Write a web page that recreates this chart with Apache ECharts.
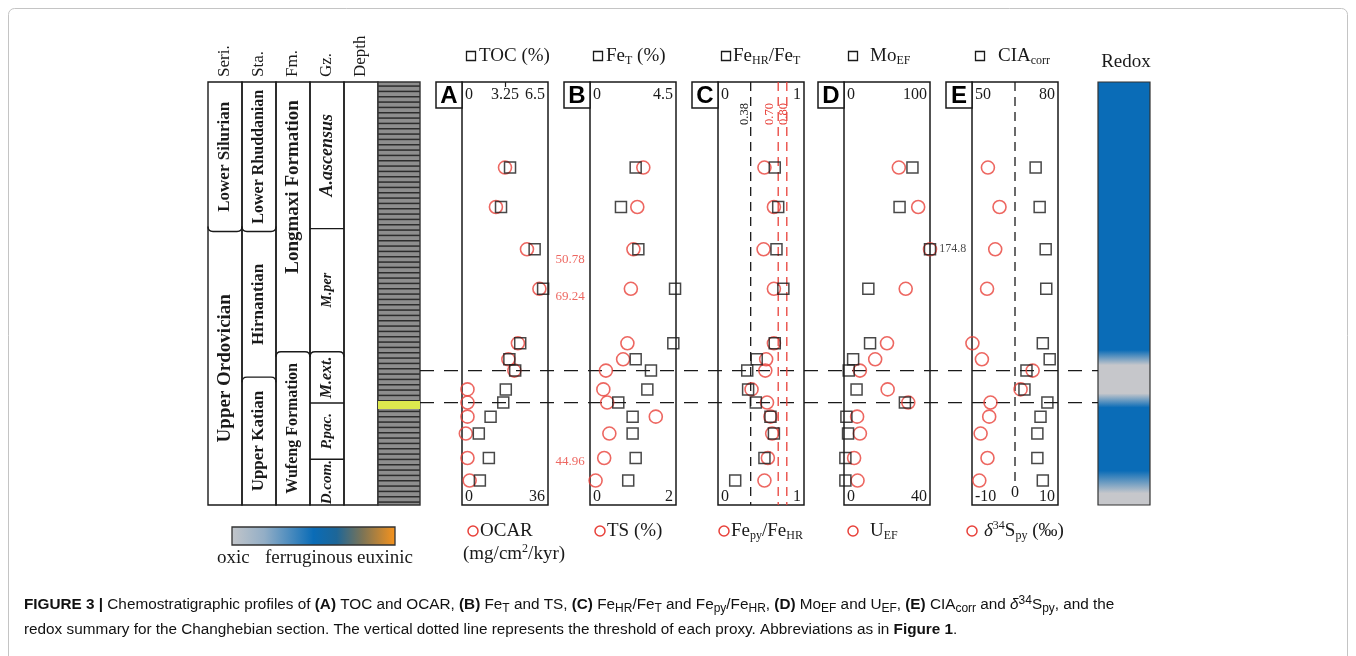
<!DOCTYPE html>
<html>
<head>
<meta charset="utf-8">
<script src="https://cdn.jsdelivr.net/npm/echarts@6.0.0/dist/echarts.min.js"></script>
<style>
html,body{margin:0;padding:0;background:#ffffff;}
#chart{width:1356px;height:656px;}
</style>
</head>
<body>
<div id="chart"></div>
<script>
// ================= DATA =================
// sample depths (m above base of section), shared by all proxy panels
const depths   = [3.59, 3.17, 2.72, 2.30, 1.72, 1.55, 1.43, 1.23, 1.09, 0.94, 0.76, 0.50, 0.26];
const toc      = [3.63, 2.95, 5.49, 6.13, 4.40, 3.58, 4.02, 3.31, 3.12, 2.16, 1.27, 2.03, 1.35];
const ocar     = [18.0, 14.2, 27.2, 32.4, 23.4, 19.4, 21.9, 2.3, 2.3, 2.3, 1.6, 2.3, 3.2];
const feT      = [2.39, 1.62, 2.53, 4.45, 4.36, 2.39, 3.19, 3.00, 1.48, 2.23, 2.23, 2.39, 2.00];
const ts       = [1.24, 1.10, 1.01, 0.95, 0.87, 0.77, 0.37, 0.31, 0.40, 1.53, 0.45, 0.33, 0.13];
const feHRfeT  = [0.66, 0.70, 0.68, 0.76, 0.66, 0.45, 0.34, 0.35, 0.44, 0.61, 0.65, 0.54, 0.20];
const fePyfeHR = [0.54, 0.65, 0.53, 0.65, 0.65, 0.56, 0.55, 0.39, 0.57, 0.61, 0.63, 0.58, 0.54];
const moEF     = [79.6, 64.6, 174.8, 28.3, 30.3, 10.6, 5.5, 14.6, 70.8, 2.8, 4.7, 1.6, 1.6];
const uEF      = [25.5, 34.5, 40.0, 28.7, 20.0, 14.5, 7.4, 20.3, 29.9, 6.1, 7.4, 4.7, 6.3];
const ciaCorr  = [72.2, 73.6, 75.7, 75.9, 74.7, 77.1, 69.0, 68.3, 76.3, 73.9, 72.8, 72.8, 74.7];
const d34S     = [-6.3, -3.6, -4.6, -6.5, -9.9, -7.7, 4.1, 1.3, -5.7, -6.0, -8.0, -6.4, -8.3];

// annotations beside panel A: [text, depth]
const ocarNotes = [['50.78', 2.61], ['69.24', 2.22], ['44.96', 0.46]];

// tick labels
const depthTicks = [1.5, 3];
const tocTicks = [0, 3.25, 6.5];
const tocMarks = [3.25];
const ocarTicks = [0, 36];
const feTTicks = [0, 4.5];
const tsTicks = [0, 2];
const feHRTicks = [0, 1];
const fePyTicks = [0, 1];
const moTicks = [0, 100];
const uTicks = [0, 40];
const ciaTicks = [50, 80];
const d34STicks = [-10, 10];

// thresholds: [panel index, axis side, value, label]
const thresholds = [
  [2, 'top', 0.38, '0.38'],
  [2, 'bottom', 0.70, '0.70'],
  [2, 'bottom', 0.80, '0.80'],
  [4, 'bottom', 0, '0']
];

// redox-boundary horizons (m)
const horizonDepths = [1.43, 1.09];

// stratigraphic column
const stratColumns = ['Seri.', 'Sta.', 'Fm.', 'Gz.', 'Depth'];
// [column, base (m), top (m), name]
const stratUnits = [
  [0, 2.91, 4.5, 'Lower Silurian'],
  [0, 0, 2.91, 'Upper Ordovician'],
  [1, 2.91, 4.5, 'Lower Rhuddanian'],
  [1, 1.36, 2.91, 'Hirnantian'],
  [1, 0, 1.36, 'Upper Katian'],
  [2, 1.63, 4.5, 'Longmaxi Formation'],
  [2, 0, 1.63, 'Wufeng Formation'],
  [3, 2.94, 4.5, 'A.ascensus'],
  [3, 1.63, 2.94, 'M.per'],
  [3, 1.085, 1.63, 'M.ext.'],
  [3, 0.486, 1.085, 'P.pac.'],
  [3, 0, 0.486, 'D.com.']
];
// [column, depth (m), boundary kind]
const stratBoundaries = [
  [0, 2.91, 'cup'], [1, 2.91, 'cup'], [1, 1.36, 'cap'], [2, 1.63, 'cap'],
  [3, 2.94, 'flat'], [3, 1.63, 'cap'], [3, 1.085, 'flat'], [3, 0.486, 'flat']
];
// lithology: [base (m), top (m), kind]
const lithology = [[0, 4.5, 'shale'], [1.02, 1.106, 'bentonite']];

// redox summary: depth (m) and state at each colour stop
const redoxDepth = [4.5, 1.65, 1.49, 1.19, 1.04, 0.37, 0.13, 0];
const redoxState = ['ferruginous', 'ferruginous', 'oxic', 'oxic', 'ferruginous', 'ferruginous', 'oxic', 'oxic'];

// ================= STYLE / LAYOUT =================
const RED = '#e8413a', INK = '#1a1a1a';
const SERIF = '"Liberation Serif","Times New Roman",serif';
const SANS = '"Liberation Sans",Arial,sans-serif';
const DMAX = 4.5;
const TOP = 82, H = 423, PW = 86;
const redoxColors = {oxic: '#c6c7cb', ferruginous: '#0a6cb7', euxinic: '#f7941d'};
const panelLayout = [
  {id: 'A', left: 462}, {id: 'B', left: 590}, {id: 'C', left: 718}, {id: 'D', left: 844}, {id: 'E', left: 972}
];
const panels = [
  {sq: toc, sqTicks: tocTicks, sqMarks: tocMarks, ci: ocar, ciTicks: ocarTicks},
  {sq: feT, sqTicks: feTTicks, ci: ts, ciTicks: tsTicks},
  {sq: feHRfeT, sqTicks: feHRTicks, ci: fePyfeHR, ciTicks: fePyTicks},
  {sq: moEF, sqTicks: moTicks, ci: uEF, ciTicks: uTicks},
  {sq: ciaCorr, sqTicks: ciaTicks, ci: d34S, ciTicks: d34STicks}
];
const thresholdColors = [INK, RED, RED, INK];
const thresholdLabelAt = ['top', 'top', 'top', 'bottom'];
const thresholdLabelDx = [-6, -8, -3, 0];
const labelShift = {'Longmaxi Formation': -30};
const unitFont = {'M.per': 14, 'Lower Rhuddanian': 16, 'Upper Ordovician': 19, 'Longmaxi Formation': 19,
  'Wufeng Formation': 16, 'A.ascensus': 18, 'P.pac.': 15, 'D.com.': 15};

function shalePattern() {
  const c = document.createElement('canvas');
  c.width = 8; c.height = 16;
  const g = c.getContext('2d');
  g.fillStyle = '#8e8e8e'; g.fillRect(0, 0, 8, 16);
  g.fillStyle = '#2d2d2d';
  [0, 5.33, 10.67].forEach(function (y) { g.fillRect(0, y, 8, 1.5); });
  return c;
}
const SHALE = shalePattern();

function txt(style) {
  if (style.align) style.textAlign = style.align;
  if (style.verticalAlign) style.textVerticalAlign = style.verticalAlign;
  return style;
}

// ================= RENDERERS =================
function renderColumn(params, api) {
  const i = params.dataIndex;
  const a = api.coord([i, DMAX]), b = api.coord([i + 1, 0]);
  return {type: 'group', children: [
    {type: 'rect', shape: {x: a[0], y: a[1], width: b[0] - a[0], height: b[1] - a[1]},
      style: {fill: 'none', stroke: INK, lineWidth: 1.4}},
    {type: 'text', x: (a[0] + b[0]) / 2, y: a[1] - 5, rotation: Math.PI / 2,
      style: txt({text: stratColumns[i], fill: INK, font: '17px ' + SERIF, align: 'left', verticalAlign: 'middle'})}
  ]};
}
function renderBoundary(params, api) {
  const bd = stratBoundaries[params.dataIndex];
  const a = api.coord([bd[0], bd[1]]), b = api.coord([bd[0] + 1, bd[1]]);
  const x0 = a[0], x1 = b[0], y = a[1], r = 5;
  let d;
  if (bd[2] === 'flat') d = 'M' + x0 + ' ' + y + 'L' + x1 + ' ' + y;
  else {
    const e = bd[2] === 'cup' ? y - r : y + r;
    d = 'M' + x0 + ' ' + e + 'Q' + x0 + ' ' + y + ' ' + (x0 + r) + ' ' + y +
        'L' + (x1 - r) + ' ' + y + 'Q' + x1 + ' ' + y + ' ' + x1 + ' ' + e;
  }
  return {type: 'path', shape: {pathData: d}, style: {fill: 'none', stroke: INK, lineWidth: 1.4}};
}
function renderUnit(params, api) {
  const u = stratUnits[params.dataIndex];
  const a = api.coord([u[0], u[2]]), b = api.coord([u[0] + 1, u[1]]);
  const zone = u[0] === 3;
  const size = unitFont[u[3]] || (zone ? 16 : 17);
  const font = (zone ? 'italic bold ' : 'bold ') + size + 'px ' + SERIF;
  return {type: 'text', x: (a[0] + b[0]) / 2, y: (a[1] + b[1]) / 2 + (labelShift[u[3]] || 0), rotation: Math.PI / 2,
    style: txt({text: u[3], fill: INK, font: font, align: 'center', verticalAlign: 'middle'})};
}
function renderLitho(params, api) {
  const l = lithology[params.dataIndex];
  const a = api.coord([0, l[1]]), b = api.coord([1, l[0]]);
  const shape = {x: a[0], y: a[1], width: b[0] - a[0], height: b[1] - a[1]};
  if (l[2] === 'shale') return {type: 'rect', shape: shape, style: {fill: {image: SHALE, repeat: 'repeat'}, stroke: '#333', lineWidth: 1.4}};
  return {type: 'rect', shape: shape, style: {fill: '#dde84e'}};
}
function renderRedox(params, api) {
  const a = api.coord([0, DMAX]), b = api.coord([1, 0]);
  const stops = redoxDepth.map(function (d, i) {
    return {offset: (api.coord([0, d])[1] - a[1]) / (b[1] - a[1]), color: redoxColors[redoxState[i]]};
  });
  return {type: 'rect', shape: {x: a[0], y: a[1], width: b[0] - a[0], height: b[1] - a[1]},
    style: {fill: new echarts.graphic.LinearGradient(0, 0, 0, 1, stops), stroke: '#333', lineWidth: 1.2}};
}
function renderHorizon(params, api) {
  const d = api.value(1);
  const a = api.coord([0, d]), b = api.coord([1, d]);
  return {type: 'line', shape: {x1: a[0], y1: a[1], x2: b[0], y2: b[1]},
    style: {stroke: INK, lineWidth: 1.3, lineDash: [14, 10]}};
}
function makeThresholdRenderer(k) {
  return function (params, api) {
    const t = thresholds[k];
    const v = api.value(0);
    const top = api.coord([v, DMAX]), bot = api.coord([v, 0]);
    const color = thresholdColors[k];
    const atTop = thresholdLabelAt[k] === 'top';
    const line = {type: 'line', shape: {x1: top[0], y1: top[1], x2: bot[0], y2: atTop ? bot[1] : bot[1] - 22},
      style: {stroke: color, lineWidth: 1.3, lineDash: [9, 6]}};
    const label = atTop
      ? {type: 'text', x: top[0] + thresholdLabelDx[k], y: top[1] + 32, rotation: Math.PI / 2,
          style: txt({text: t[3], fill: color, font: '12.5px ' + SERIF, align: 'center', verticalAlign: 'middle'})}
      : {type: 'text', x: bot[0], y: bot[1] - 12,
          style: txt({text: t[3], fill: color, font: '16px ' + SERIF, align: 'center', verticalAlign: 'middle'})};
    return {type: 'group', children: [line, label]};
  };
}

// ================= OPTION =================
const grids = [
  {left: 208, top: TOP, width: 170, height: H},
  {left: 378, top: TOP, width: 42, height: H}
];
panelLayout.forEach(function (p) {
  grids.push({left: p.left, top: TOP, width: PW, height: H, show: true, borderColor: INK, borderWidth: 1.5, backgroundColor: 'rgba(0,0,0,0)'});
});
grids.push({left: 1098, top: TOP, width: 52, height: H});
grids.push({left: 420, top: TOP, width: 678, height: H});
grids.forEach(function (g) { g.containLabel = false; g.outerBoundsMode = 'none'; });

function hiddenAxis(min, max, gridIndex) {
  return {type: 'value', gridIndex: gridIndex, min: min, max: max, show: false, axisLine: {onZero: false}};
}
function panelAxis(k, position, ticks, marks) {
  return {
    type: 'value', gridIndex: 2 + k, position: position, min: ticks[0], max: ticks[ticks.length - 1],
    axisLine: {show: false, onZero: false}, splitLine: {show: false},
    axisTick: marks ? {show: true, inside: true, length: 5, customValues: marks, lineStyle: {color: INK, width: 1.2}} : {show: false},
    axisLabel: {show: true, inside: true, customValues: ticks, margin: position === 'top' ? 5 : 0,
      fontFamily: SERIF, fontSize: 16, color: INK, alignMinLabel: 'left', alignMaxLabel: 'right',
      verticalAlign: position === 'top' ? 'top' : 'bottom', padding: [0, 3, 0, 3]}
  };
}
const xAxes = [hiddenAxis(0, 5, 0), hiddenAxis(0, 1, 1)];
panels.forEach(function (p, k) {
  xAxes.push(panelAxis(k, 'top', p.sqTicks, p.sqMarks));
  xAxes.push(panelAxis(k, 'bottom', p.ciTicks));
});
xAxes.push(hiddenAxis(0, 1, 7), hiddenAxis(0, 1, 8));

const yAxes = [
  hiddenAxis(0, DMAX, 0),
  {type: 'value', gridIndex: 1, min: 0, max: DMAX, interval: 1.5, position: 'left',
    axisLine: {show: false, onZero: false}, splitLine: {show: false},
    axisTick: {show: true, length: 21, customValues: depthTicks, lineStyle: {color: INK, width: 1.3}},
    axisLabel: {show: true, customValues: depthTicks, showMinLabel: false, showMaxLabel: false, margin: 20,
      align: 'left', verticalAlign: 'bottom', fontFamily: SERIF, fontSize: 16, color: INK}}
];
panels.forEach(function (p, k) { yAxes.push(hiddenAxis(0, DMAX, 2 + k)); });
yAxes.push(hiddenAxis(0, DMAX, 7), hiddenAxis(0, DMAX, 8));

const series = [];
series.push({type: 'custom', xAxisIndex: 0, yAxisIndex: 0, silent: true, z: 2,
  data: stratColumns.map(function (c, i) { return [i, 0]; }), renderItem: renderColumn});
series.push({type: 'custom', xAxisIndex: 0, yAxisIndex: 0, silent: true, z: 3,
  data: stratBoundaries.map(function (b) { return [b[0], b[1]]; }), renderItem: renderBoundary});
series.push({type: 'custom', xAxisIndex: 0, yAxisIndex: 0, silent: true, z: 3,
  data: stratUnits.map(function (u) { return [u[0], u[1]]; }), renderItem: renderUnit});
series.push({type: 'custom', xAxisIndex: 1, yAxisIndex: 1, silent: true, z: 2,
  data: lithology.map(function (l) { return [0.5, l[0]]; }), renderItem: renderLitho});
series.push({type: 'custom', xAxisIndex: 13, yAxisIndex: 8, silent: true, z: 3,
  data: horizonDepths.map(function (d) { return [0, d]; }), renderItem: renderHorizon});

panels.forEach(function (p, k) {
  const sqMax = p.sqTicks[p.sqTicks.length - 1];
  series.push({type: 'scatter', xAxisIndex: 3 + 2 * k, yAxisIndex: 2 + k, clip: false, silent: true, z: 4,
    data: p.ci.map(function (v, i) { return [v, depths[i]]; }),
    symbol: 'circle', symbolSize: 13,
    itemStyle: {color: 'rgba(255,255,255,0)', borderColor: RED, borderWidth: 1.6}});
  series.push({type: 'scatter', xAxisIndex: 2 + 2 * k, yAxisIndex: 2 + k, clip: false, silent: true, z: 5,
    data: p.sq.map(function (v, i) {
      if (v > sqMax) {
        return {value: [sqMax, depths[i]], label: {show: true, formatter: String(v), position: 'right', distance: 3,
          fontFamily: SERIF, fontSize: 12, color: INK}};
      }
      return [v, depths[i]];
    }),
    symbol: 'rect', symbolSize: 11,
    itemStyle: {color: 'rgba(255,255,255,0)', borderColor: INK, borderWidth: 1.5}});
});
series.push({type: 'scatter', xAxisIndex: 3, yAxisIndex: 2, clip: false, silent: true, z: 5,
  data: ocarNotes.map(function (n) { return {value: [ocarTicks[ocarTicks.length - 1], n[1]], name: n[0]}; }),
  symbolSize: 1, itemStyle: {color: 'rgba(0,0,0,0)'},
  label: {show: true, formatter: '{b}', position: 'right', distance: 7, color: RED, fontFamily: SERIF, fontSize: 13}});
thresholds.forEach(function (t, k) {
  const xi = t[1] === 'top' ? 2 + 2 * t[0] : 3 + 2 * t[0];
  series.push({type: 'custom', xAxisIndex: xi, yAxisIndex: 2 + t[0], silent: true, z: 3,
    data: [[t[2], 0]], renderItem: makeThresholdRenderer(k)});
});
series.push({type: 'custom', xAxisIndex: 12, yAxisIndex: 7, silent: true, z: 2,
  data: [[0, 0]], renderItem: renderRedox});

// ================= GRAPHIC (titles, legends, caption) =================
const richSerif = {
  s: {fontSize: 12, fontFamily: SERIF, verticalAlign: 'bottom', lineHeight: 12, fill: INK},
  p: {fontSize: 12, fontFamily: SERIF, verticalAlign: 'top', lineHeight: 12, fill: INK},
  i: {fontSize: 19, fontFamily: SERIF, fontStyle: 'italic', lineHeight: 22, fill: INK}
};
const graphics = [];
graphics.push({type: 'rect', silent: true, z: -10, shape: {x: 8.5, y: 8.5, width: 1339, height: 720, r: 6},
  style: {fill: 'none', stroke: '#c4c4c4', lineWidth: 1}});
panelLayout.forEach(function (p) {
  graphics.push({type: 'rect', z: 10, shape: {x: p.left - 26, y: TOP, width: 26, height: 26},
    style: {fill: '#fff', stroke: INK, lineWidth: 1.5}});
  graphics.push({type: 'text', z: 11, x: p.left - 13, y: TOP + 14,
    style: txt({text: p.id, font: 'bold 24px ' + SANS, fill: '#000', align: 'center', verticalAlign: 'middle'})});
});
const topLegend = [
  {cx: 471, tx: 479, text: 'TOC (%)'},
  {cx: 598, tx: 606, text: 'Fe{s|T} (%)'},
  {cx: 726, tx: 733, text: 'Fe{s|HR}/Fe{s|T}'},
  {cx: 853, tx: 870, text: 'Mo{s|EF}'},
  {cx: 980, tx: 998, text: 'CIA{s|corr}'}
];
const bottomLegend = [
  {cx: 473, tx: 480, text: 'OCAR'},
  {cx: 600, tx: 607, text: 'TS (%)'},
  {cx: 724, tx: 731, text: 'Fe{s|py}/Fe{s|HR}'},
  {cx: 853, tx: 870, text: 'U{s|EF}'},
  {cx: 972, tx: 984, text: '{i|δ}{p|34}S{s|py} (‰)'}
];
topLegend.forEach(function (l) {
  graphics.push({type: 'rect', shape: {x: l.cx - 4.5, y: 51.5, width: 9, height: 9}, style: {fill: 'none', stroke: INK, lineWidth: 1.3}});
  graphics.push({type: 'text', x: l.tx, y: 56, style: txt({text: l.text, rich: richSerif, fontSize: 19, fontFamily: SERIF, lineHeight: 22, fill: INK, align: 'left', verticalAlign: 'middle'})});
});
bottomLegend.forEach(function (l) {
  graphics.push({type: 'circle', shape: {cx: l.cx, cy: 531, r: 5}, style: {fill: 'none', stroke: RED, lineWidth: 1.5}});
  graphics.push({type: 'text', x: l.tx, y: 531, style: txt({text: l.text, rich: richSerif, fontSize: 19, fontFamily: SERIF, lineHeight: 22, fill: INK, align: 'left', verticalAlign: 'middle'})});
});
graphics.push({type: 'text', x: 463, y: 554, style: txt({text: '(mg/cm{p|2}/kyr)', rich: richSerif, fontSize: 19, fontFamily: SERIF, lineHeight: 22, fill: INK, align: 'left', verticalAlign: 'middle'})});
graphics.push({type: 'text', x: 1126, y: 62, style: txt({text: 'Redox', font: '19px ' + SERIF, fill: INK, align: 'center', verticalAlign: 'middle'})});
// redox colour key
graphics.push({type: 'rect', shape: {x: 232, y: 527, width: 163, height: 18},
  style: {fill: new echarts.graphic.LinearGradient(0, 0, 1, 0, [
    {offset: 0, color: '#c3c6ca'}, {offset: 0.2, color: '#93aec6'}, {offset: 0.5, color: '#0a6cb7'},
    {offset: 0.64, color: '#1d6698'}, {offset: 0.8, color: '#7d7455'}, {offset: 1, color: '#f8931c'}]),
    stroke: '#333', lineWidth: 1.3}});
[['oxic', 217], ['ferruginous', 265], ['euxinic', 357]].forEach(function (t) {
  graphics.push({type: 'text', x: t[1], y: 558, style: txt({text: t[0], font: '19px ' + SERIF, fill: INK, align: 'left', verticalAlign: 'middle'})});
});
// caption
const CAP = 15.3;
const richSans = {
  b: {fontFamily: SANS, fontSize: CAP, fontWeight: 'bold', lineHeight: 20, fill: '#111'},
  s: {fontFamily: SANS, fontSize: 12, verticalAlign: 'bottom', lineHeight: 11, fill: '#111'},
  p: {fontFamily: SANS, fontSize: 12, verticalAlign: 'top', lineHeight: 11, fill: '#111'},
  i: {fontFamily: SANS, fontSize: CAP, fontStyle: 'italic', lineHeight: 20, fill: '#111'}
};
const captionLines = [
  '{b|FIGURE 3 |} Chemostratigraphic profiles of {b|(A)} TOC and OCAR, {b|(B)} Fe{s|T} and TS, {b|(C)} Fe{s|HR}/Fe{s|T} and Fe{s|py}/Fe{s|HR}, {b|(D)} Mo{s|EF} and U{s|EF}, {b|(E)} CIA{s|corr} and {i|δ}{p|34}S{s|py}, and the',
  'redox summary for the Changhebian section. The vertical dotted line represents the threshold of each proxy. Abbreviations as in {b|Figure 1}.'
];
captionLines.forEach(function (c, i) {
  graphics.push({type: 'text', x: 24, y: 605 + i * 25, style: txt({text: c, rich: richSans, fontFamily: SANS, fontSize: CAP, lineHeight: 20, fill: '#111', align: 'left', verticalAlign: 'middle'})});
});

const chart = echarts.init(document.getElementById('chart'), null, {renderer: 'canvas'});
chart.setOption({
  animation: false,
  backgroundColor: '#ffffff',
  grid: grids,
  xAxis: xAxes,
  yAxis: yAxes,
  series: series,
  graphic: {elements: graphics}
});
</script>
</body>
</html>
